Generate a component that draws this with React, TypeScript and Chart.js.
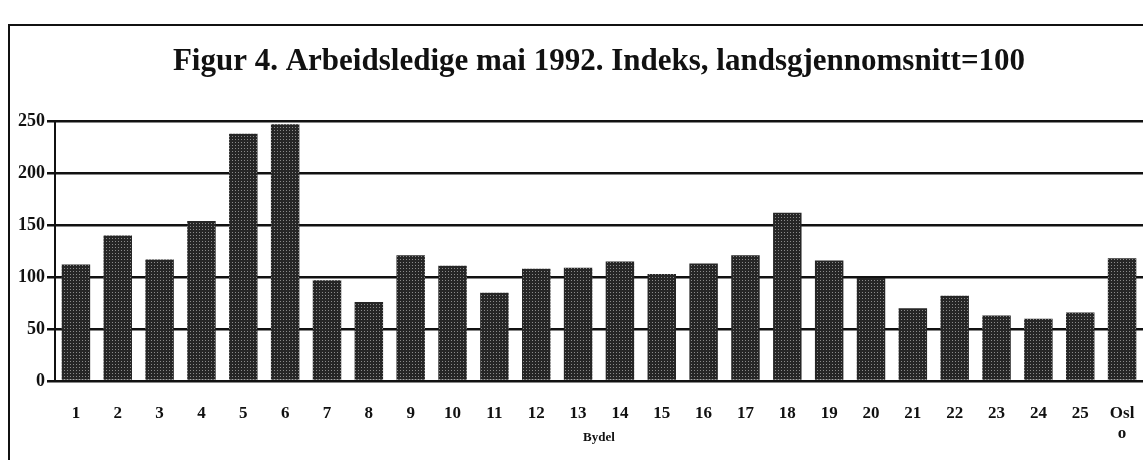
import React, { useEffect, useRef } from "react";
import { Chart, registerables } from "chart.js";

Chart.register(...registerables);

const categories: (string | string[])[] = [
  "1", "2", "3", "4", "5", "6", "7", "8", "9", "10", "11", "12", "13",
  "14", "15", "16", "17", "18", "19", "20", "21", "22", "23", "24", "25", ["Osl", "o"],
];
const indexValues = [
  112, 140, 117, 154, 238, 247, 97, 76, 121, 111, 85, 108, 109,
  115, 103, 113, 121, 162, 116, 99, 70, 82, 63, 60, 66, 118,
];
const yTicks = [0, 50, 100, 150, 200, 250];
const titleText = "Figur 4. Arbeidsledige mai 1992. Indeks, landsgjennomsnitt=100";
const axisTitle = "Bydel";

const SERIF = "'Liberation Serif', 'DejaVu Serif', serif";

function makePattern(): CanvasPattern | string {
  const c = document.createElement("canvas");
  c.width = 3;
  c.height = 3;
  const g = c.getContext("2d");
  if (!g) return "#333";
  g.fillStyle = "#262626";
  g.fillRect(0, 0, 3, 3);
  g.fillStyle = "#8a8a8a";
  g.fillRect(1, 1, 1, 1);
  const p = g.createPattern(c, "repeat");
  return p || "#333";
}

const framePlugin = {
  id: "frame",
  beforeDraw(chart: any) {
    const ctx = chart.ctx;
    ctx.save();
    ctx.fillStyle = "#ffffff";
    ctx.fillRect(0, 0, chart.width, chart.height);
    ctx.strokeStyle = "#111";
    ctx.lineWidth = 2;
    ctx.beginPath();
    ctx.moveTo(9, chart.height);
    ctx.lineTo(9, 25);
    ctx.lineTo(chart.width, 25);
    ctx.stroke();
    ctx.restore();
  },
};

export default function App() {
  const ref = useRef<HTMLCanvasElement | null>(null);

  useEffect(() => {
    document.body.style.margin = "0";
    if (!ref.current) return;
    const chart = new Chart(ref.current, {
      type: "bar",
      data: {
        labels: categories,
        datasets: [
          {
            data: indexValues,
            backgroundColor: makePattern() as any,
            borderWidth: 0,
            barPercentage: 0.68,
            categoryPercentage: 1,
          },
        ],
      },
      options: {
        animation: false,
        responsive: false,
        layout: { padding: { left: 0, right: 0, top: 0, bottom: 0 } },
        plugins: {
          legend: { display: false },
          tooltip: { enabled: false },
          title: {
            display: true,
            fullSize: false,
            text: titleText,
            color: "#111",
            font: { family: SERIF, size: 31, weight: "bold" },
            padding: { top: 43, bottom: 41 },
          },
        },
        scales: {
          x: {
            grid: { display: false, drawTicks: false },
            border: { display: false },
            ticks: {
              color: "#111",
              font: { family: SERIF, size: 17, weight: "bold" },
              padding: 22,
              maxRotation: 0,
              autoSkip: false,
            },
            title: {
              display: true,
              text: axisTitle,
              color: "#111",
              font: { family: SERIF, size: 13, weight: "bold" },
              padding: { top: 15, bottom: 15 },
            },
            afterFit(scale: any) {
              scale.height = 79;
              scale.paddingRight = 0;
              scale.paddingLeft = 0;
            },
          },
          y: {
            min: 0,
            max: 250,
            afterBuildTicks(scale: any) {
              scale.ticks = yTicks.map((v) => ({ value: v }));
            },
            grid: {
              color: "#111",
              lineWidth: 2.5,
              tickLength: 8,
              drawTicks: true,
            },
            border: { display: true, color: "#111", width: 2 },
            ticks: {
              color: "#111",
              font: { family: SERIF, size: 18, weight: "bold" },
              padding: 2,
            },
            afterFit(scale: any) {
              scale.width = 55;
            },
          },
        },
      },
      plugins: [framePlugin],
    });
    return () => chart.destroy();
  }, []);

  return (
    <div style={{ position: "absolute", left: 0, top: 0, width: 1143, height: 460 }}>
      <canvas ref={ref} width={1143} height={460} style={{ display: "block" }} />
    </div>
  );
}
